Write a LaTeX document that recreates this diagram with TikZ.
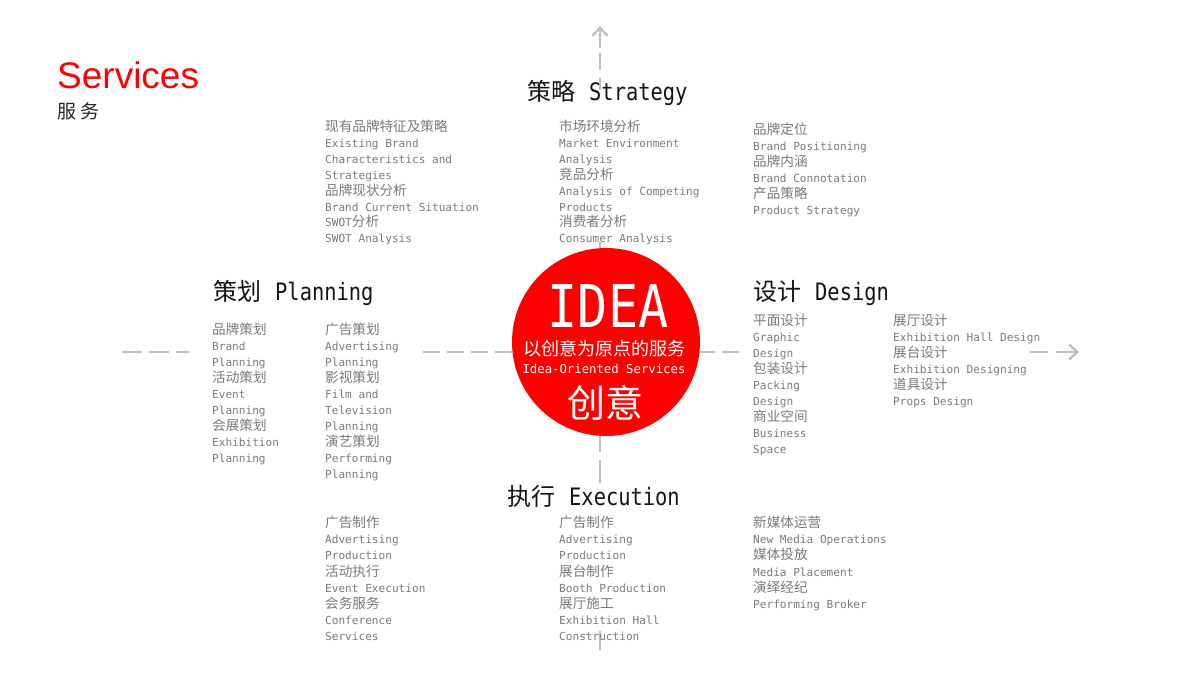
\documentclass[tikz,border=0pt]{standalone}
\usepackage{fontspec}
\setmainfont{DejaVu Sans Mono}
\newfontfamily\zhf{Noto Sans CJK SC}
\newfontfamily\monoH[FakeStretch=0.85]{DejaVu Sans Mono}
\newfontfamily\arialf{Liberation Sans}
\usetikzlibrary{arrows.meta}
\definecolor{axisgray}{HTML}{C0C0C0}
\definecolor{txtgray}{HTML}{7A7A7A}
\definecolor{idred}{HTML}{FF0000}
\newcommand\zh[1]{{\zhf\fontsize{13.6}{16}\selectfont #1}}
\newcommand\headtext[2]{{\zhf\fontsize{24}{28}\selectfont #1}\hspace{14pt}{\monoH\fontsize{24}{28}\selectfont #2}}
\newcommand\itemblock[5]{%
  \foreach \t [count=\i from 0] in {#5} {\node[bodytxt] (#1-\i) at (#2,{#3+#4*\i}) {\t};}}
\begin{document}
\begin{tikzpicture}[x=1pt,y=-1pt,
  bodytxt/.style={anchor=base west, inner sep=0pt, text=txtgray, font=\fontsize{11.1}{13}\selectfont},
  headtxt/.style={anchor=base west, inner sep=0pt, text=black!92},
  axis/.style={draw=axisgray, line width=2.4pt},
  axisdash/.style={axis, dash pattern=on 17pt off 7pt},
  tip/.style={-{Straight Barb[length=8pt,width=15pt]}}]
\useasboundingbox (0,0) rectangle (1200,675);
\fill[white] (0,0) rectangle (1200,675);

% named points of the two axes
\coordinate (hL0) at (122,352); \coordinate (hL1) at (189,352);
\coordinate (hM0) at (423,352); \coordinate (hM1) at (515,352);
\coordinate (hR0) at (698,352); \coordinate (hR1) at (746,352);
\coordinate (hF0) at (1030,352); \coordinate (hF1) at (1048,352);
\coordinate (hA0) at (1056,352); \coordinate (hA1) at (1079,352);
\coordinate (vT0) at (600,48); \coordinate (vT1) at (600,26);
\coordinate (vD0) at (600,53); \coordinate (vD1) at (600,70);
\coordinate (vE0) at (600,78); \coordinate (vE1) at (600,90);
\coordinate (vS0) at (600,242); \coordinate (vS1) at (600,255);
\coordinate (vB0) at (600,430); \coordinate (vB1) at (600,452);
\coordinate (vC0) at (600,460); \coordinate (vC1) at (600,483);
\coordinate (vZ0) at (600,631); \coordinate (vZ1) at (600,650);

% axes
\draw[axis, dash pattern=on 20pt off 7pt] (hL0) -- (hL1);
\draw[axisdash] (hM0) -- (hM1);
\draw[axisdash] (hR0) -- (hR1);
\draw[axis] (hF0) -- (hF1);
\draw[axis, tip] (hA0) -- (hA1);
\draw[axis, tip] (vT0) -- (vT1);
\draw[axis] (vD0) -- (vD1);
\draw[axis] (vE0) -- (vE1);
\draw[axis] (vS0) -- (vS1);
\draw[axis] (vB0) -- (vB1);
\draw[axis] (vC0) -- (vC1);
\draw[axis] (vZ0) -- (vZ1);

% title
\node[anchor=base west, inner sep=0pt, text=idred, font=\arialf\fontsize{37}{40}\selectfont] (title) at (57,88) {Services};
\node[anchor=base west, inner sep=0pt, text=black!85, font=\zhf\fontsize{19}{22}\selectfont] (subtitle) at (57,118.5) {服\hspace{4pt}务};

% central circle
\node[circle, fill=idred, minimum size=188pt, inner sep=0pt] (idea) at (606,342) {};
\node[anchor=base, inner sep=0pt, text=white, font=\monoH\fontsize{59}{62}\selectfont] (ideaT) at (608,327) {IDEA};
\node[anchor=base, inner sep=0pt, text=white, font=\zhf\fontsize{18}{20}\selectfont] (ideaZ) at (604,355) {以创意为原点的服务};
\node[anchor=base, inner sep=0pt, text=white, font=\fontsize{12.3}{14}\selectfont] (ideaE) at (604,373) {Idea-Oriented Services};
\node[anchor=base, inner sep=0pt, text=white, font=\zhf\fontsize{38}{40}\selectfont] (ideaC) at (605,417) {创意};

% headings
\node[headtxt] (hStr) at (527,100.5) {\headtext{策略}{Strategy}};
\node[headtxt] (hPla) at (213,300) {\headtext{策划}{Planning}};
\node[headtxt] (hDes) at (753,300.5) {\headtext{设计}{Design}};
\node[headtxt] (hExe) at (507,505.5) {\headtext{执行}{Execution}};

% item blocks
\itemblock{sA}{325}{131.5}{15.9}{\zh{现有品牌特征及策略},Existing Brand,Characteristics and,Strategies,\zh{品牌现状分析},Brand Current Situation,SWOT\zh{分析},SWOT Analysis}
\itemblock{sB}{559}{131.5}{15.9}{\zh{市场环境分析},Market Environment,Analysis,\zh{竞品分析},Analysis of Competing,Products,\zh{消费者分析},Consumer Analysis}
\itemblock{sC}{753}{134.5}{16}{\zh{品牌定位},Brand Positioning,\zh{品牌内涵},Brand Connotation,\zh{产品策略},Product Strategy}
\itemblock{pA}{212}{334.5}{16}{\zh{品牌策划},Brand,Planning,\zh{活动策划},Event,Planning,\zh{会展策划},Exhibition,Planning}
\itemblock{pB}{325}{334.5}{16}{\zh{广告策划},Advertising,Planning,\zh{影视策划},Film and,Television,Planning,\zh{演艺策划},Performing,Planning}
\itemblock{dA}{753}{325.5}{16}{\zh{平面设计},Graphic,Design,\zh{包装设计},Packing,Design,\zh{商业空间},Business,Space}
\itemblock{dB}{893}{325.5}{16}{\zh{展厅设计},Exhibition Hall Design,\zh{展台设计},Exhibition Designing,\zh{道具设计},Props Design}
\itemblock{eA}{325}{527.5}{16.2}{\zh{广告制作},Advertising,Production,\zh{活动执行},Event Execution,\zh{会务服务},Conference,Services}
\itemblock{eB}{559}{527.5}{16.2}{\zh{广告制作},Advertising,Production,\zh{展台制作},Booth Production,\zh{展厅施工},Exhibition Hall,Construction}
\itemblock{eC}{753}{527.5}{16.2}{\zh{新媒体运营},New Media Operations,\zh{媒体投放},Media Placement,\zh{演绎经纪},Performing Broker}
\end{tikzpicture}
\end{document}
